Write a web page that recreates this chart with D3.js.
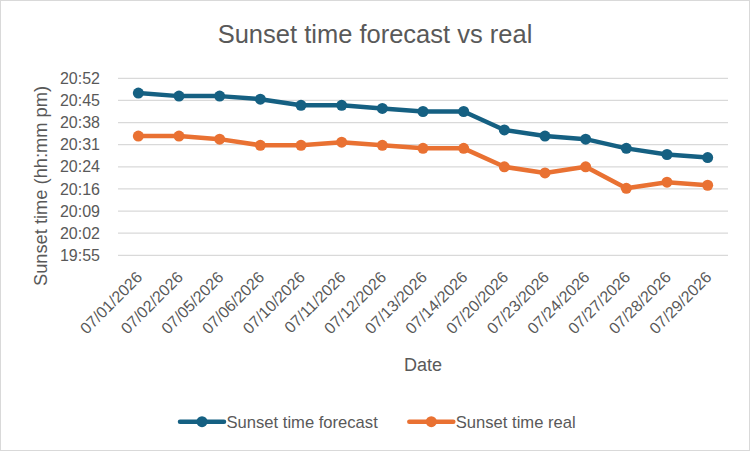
<!DOCTYPE html>
<html>
<head>
<meta charset="utf-8">
<script src="https://cdn.jsdelivr.net/npm/d3@7"></script>
<style>
  html, body { margin: 0; padding: 0; background: #fff; }
  svg { display: block; }
  text { font-family: "Liberation Sans", Arial, sans-serif; fill: #595959; }
</style>
</head>
<body>
<svg id="chart" width="751" height="452"></svg>
<script>
// ---- data ----
const dates = ["07/01/2026","07/02/2026","07/05/2026","07/06/2026","07/10/2026","07/11/2026","07/12/2026","07/13/2026","07/14/2026","07/20/2026","07/23/2026","07/24/2026","07/27/2026","07/28/2026","07/29/2026"];
const forecast = ["20:48","20:47","20:47","20:46","20:44","20:44","20:43","20:42","20:42","20:36","20:34","20:33","20:30","20:28","20:27"];
const real = ["20:34","20:34","20:33","20:31","20:31","20:32","20:31","20:30","20:30","20:24","20:22","20:24","20:17","20:19","20:18"];
// y axis: Excel day fractions 0.83 .. 0.87 step 0.005 (in minutes)
const yMin = 0.83 * 1440, yMax = 0.87 * 1440, yStep = 0.005 * 1440;
const seriesNames = ["Sunset time forecast", "Sunset time real"];
const seriesColors = ["#156082", "#E97132"];

const toMin = s => { const [h, m] = s.split(":").map(Number); return h * 60 + m; };
const fmt = v => { const t = Math.floor(v + 1e-6); return String(Math.floor(t / 60)).padStart(2, "0") + ":" + String(t % 60).padStart(2, "0"); };

const svg = d3.select("#chart");
const W = 751, H = 452;
const plot = { left: 118, right: 728, top: 78.3, bottom: 255.3 };

svg.append("rect").attr("x", 0.5).attr("y", 0.5).attr("width", 749).attr("height", 450)
  .attr("fill", "#fff").attr("stroke", "#d9d9d9").attr("stroke-width", 1);

const x = d3.scaleBand().domain(dates).range([plot.left, plot.right]);
const y = d3.scaleLinear().domain([yMin, yMax]).range([plot.bottom, plot.top]);
const ticks = d3.range(0, 9).map(i => yMin + i * yStep);

// gridlines
svg.append("g").selectAll("line").data(ticks).join("line")
  .attr("x1", plot.left).attr("x2", plot.right)
  .attr("y1", d => y(d)).attr("y2", d => y(d))
  .attr("stroke", "#d9d9d9").attr("stroke-width", 1.3);

// y axis labels
const yAxis = svg.append("g").attr("transform", `translate(${plot.left},0)`)
  .call(d3.axisLeft(y).tickValues(ticks).tickFormat(fmt).tickSize(0).tickPadding(18));
yAxis.select(".domain").remove();
yAxis.selectAll("text").attr("font-size", 16).attr("fill", "#595959")
  .attr("font-family", "Liberation Sans, Arial, sans-serif");

// x axis labels
const xAxis = svg.append("g").attr("transform", `translate(0,${plot.bottom})`)
  .call(d3.axisBottom(x).tickSize(0).tickPadding(0));
xAxis.select(".domain").remove();
xAxis.selectAll("text")
  .attr("font-size", 16).attr("fill", "#595959")
  .attr("font-family", "Liberation Sans, Arial, sans-serif")
  .attr("text-anchor", "end").attr("dy", null).attr("y", 0)
  .attr("transform", "translate(5,23) rotate(-45)");

// lines + markers
const cx = d => x(d) + x.bandwidth() / 2;
[forecast, real].forEach((vals, si) => {
  const pts = vals.map((v, i) => ({ d: dates[i], v: toMin(v) }));
  svg.append("path").datum(pts)
    .attr("fill", "none").attr("stroke", seriesColors[si]).attr("stroke-width", 4.5)
    .attr("stroke-linejoin", "round").attr("stroke-linecap", "round")
    .attr("d", d3.line().x(p => cx(p.d)).y(p => y(p.v)));
  svg.append("g").selectAll("circle").data(pts).join("circle")
    .attr("cx", p => cx(p.d)).attr("cy", p => y(p.v)).attr("r", 5.5)
    .attr("fill", seriesColors[si]);
});

// title
svg.append("text").attr("x", 375).attr("y", 43).attr("text-anchor", "middle")
  .attr("font-size", 25.5).text("Sunset time forecast vs real");

// axis titles
svg.append("text").attr("x", 423).attr("y", 371).attr("text-anchor", "middle")
  .attr("font-size", 18).text("Date");
svg.append("text").attr("transform", "translate(47,186) rotate(-90)").attr("text-anchor", "middle")
  .attr("font-size", 18.3).text("Sunset time (hh:mm pm)");

// legend
const legendX = [180, 409.3];
seriesNames.forEach((name, i) => {
  const g = svg.append("g").attr("transform", `translate(${legendX[i]},421.7)`);
  g.append("line").attr("x1", 0).attr("x2", 44).attr("y1", 0).attr("y2", 0)
    .attr("stroke", seriesColors[i]).attr("stroke-width", 4.5).attr("stroke-linecap", "round");
  g.append("circle").attr("cx", 22).attr("cy", 0).attr("r", 5.5).attr("fill", seriesColors[i]);
  g.append("text").attr("x", 46.5).attr("y", 0).attr("dy", "0.35em")
    .attr("font-size", 16.6).text(name);
});
</script>
</body>
</html>
